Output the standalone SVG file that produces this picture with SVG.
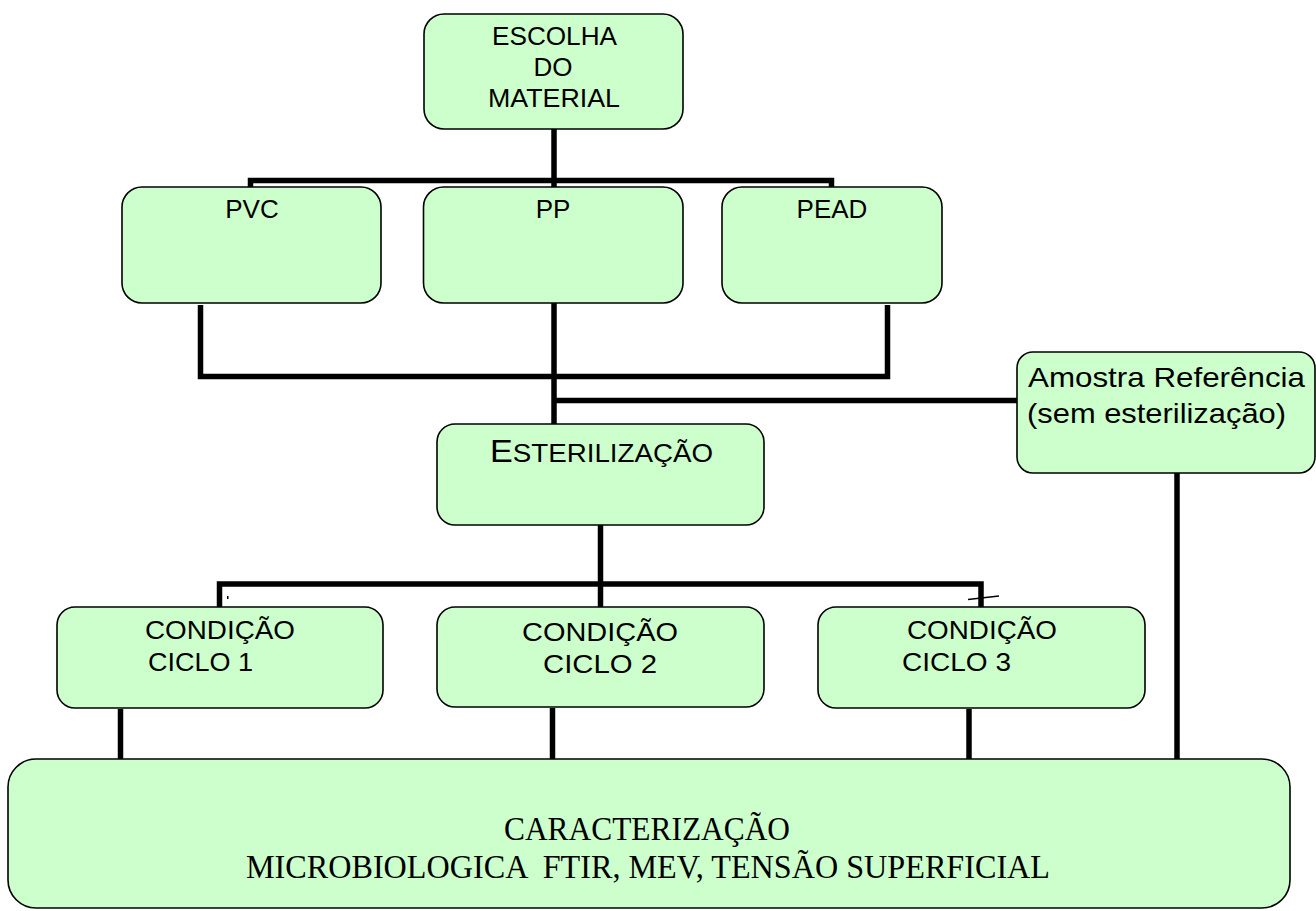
<svg xmlns="http://www.w3.org/2000/svg" width="1316" height="911" viewBox="0 0 1316 911">
<style>
.box{fill:#CCFFCC;stroke:#000;stroke-width:1.6}
.t{font-family:"Liberation Sans",Arial,sans-serif;font-size:26px;fill:#000}
.m{text-anchor:middle}
.s{font-family:"Liberation Serif","Times New Roman",serif;font-size:34px;fill:#000;white-space:pre}
.c{fill:none;stroke:#000;stroke-width:5.5;stroke-linecap:butt;stroke-linejoin:miter}
</style>
<rect width="1316" height="911" fill="#fff"/>
<g id="connectors">
<line class="c" x1="554" y1="129" x2="554" y2="187"/>
<polyline class="c" points="250.5,187 250.5,180.5 831.5,180.5 831.5,187"/>
<polyline class="c" points="200.5,305 200.5,376.5 887.5,376.5 887.5,305"/>
<line class="c" x1="554" y1="303" x2="554" y2="424"/>
<line class="c" x1="554" y1="400.5" x2="1017" y2="400.5"/>
<line class="c" x1="600.5" y1="525" x2="600.5" y2="607"/>
<polyline class="c" points="219.5,607 219.5,584 981,584 981,607"/>
<line class="c" x1="120.5" y1="709" x2="120.5" y2="759"/>
<line class="c" x1="552.5" y1="708" x2="552.5" y2="759"/>
<line class="c" x1="969" y1="709" x2="969" y2="759"/>
<line class="c" x1="1177" y1="473" x2="1177" y2="759"/>
<rect x="227" y="596" width="1.5" height="3" fill="#000"/>
<line x1="968" y1="599.5" x2="999" y2="596" stroke="#000" stroke-width="1.5"/>
</g>
<g id="escolha">
<rect class="box" x="424" y="14" width="259" height="115" rx="20"/>
<text class="t" x="492" y="45" textLength="125" lengthAdjust="spacingAndGlyphs">ESCOLHA</text>
<text class="t m" x="553" y="76">DO</text>
<text class="t" x="488" y="107" textLength="132" lengthAdjust="spacingAndGlyphs">MATERIAL</text>
</g>
<g id="pvc">
<rect class="box" x="122" y="187" width="259" height="116" rx="20"/>
<text class="t m" x="252" y="218">PVC</text>
</g>
<g id="pp">
<rect class="box" x="423.5" y="187" width="259.5" height="116" rx="20"/>
<text class="t m" x="553" y="218">PP</text>
</g>
<g id="pead">
<rect class="box" x="722" y="187" width="220" height="116" rx="20"/>
<text class="t m" x="832" y="218">PEAD</text>
</g>
<g id="amostra">
<rect class="box" x="1017" y="352" width="298" height="121" rx="16"/>
<text class="t" x="1028" y="387" style="font-size:28.5px" textLength="277" lengthAdjust="spacingAndGlyphs">Amostra Referência</text>
<text class="t" x="1027" y="423" style="font-size:28.5px" textLength="259" lengthAdjust="spacingAndGlyphs">(sem esterilização)</text>
</g>
<g id="esterilizacao">
<rect class="box" x="437" y="424" width="327" height="101" rx="18"/>
<text class="t" x="490" y="462" textLength="223" lengthAdjust="spacingAndGlyphs"><tspan style="font-size:32px">E</tspan>STERILIZAÇÃO</text>
</g>
<g id="ciclo1">
<rect class="box" x="57" y="607" width="326" height="101" rx="18"/>
<text class="t" x="145" y="639" textLength="150" lengthAdjust="spacingAndGlyphs">CONDIÇÃO</text>
<text class="t" x="148" y="671" textLength="105" lengthAdjust="spacingAndGlyphs">CICLO 1</text>
</g>
<g id="ciclo2">
<rect class="box" x="437" y="607" width="327" height="100" rx="18"/>
<text class="t" x="522" y="641" textLength="156" lengthAdjust="spacingAndGlyphs">CONDIÇÃO</text>
<text class="t" x="543" y="673" textLength="114" lengthAdjust="spacingAndGlyphs">CICLO 2</text>
</g>
<g id="ciclo3">
<rect class="box" x="818" y="607" width="327" height="101" rx="18"/>
<text class="t" x="907" y="639" textLength="150" lengthAdjust="spacingAndGlyphs">CONDIÇÃO</text>
<text class="t" x="902" y="671" textLength="109" lengthAdjust="spacingAndGlyphs">CICLO 3</text>
</g>
<g id="caracterizacao">
<rect class="box" x="8" y="759" width="1282" height="149" rx="28"/>
<text class="s" x="504" y="840" textLength="286" lengthAdjust="spacingAndGlyphs">CARACTERIZAÇÃO</text>
<text class="s" x="246" y="878" textLength="804" lengthAdjust="spacingAndGlyphs" xml:space="preserve">MICROBIOLOGICA  FTIR, MEV, TENSÃO SUPERFICIAL</text>
</g>
</svg>
